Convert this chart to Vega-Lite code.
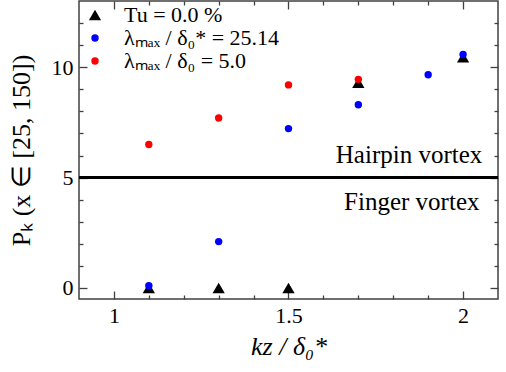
{
  "$schema": "https://vega.github.io/schema/vega-lite/v6.json",
  "width": 419,
  "height": 298,
  "autosize": {"type": "none"},
  "padding": {"left": 79, "top": 1, "right": 8, "bottom": 73},
  "background": "white",
  "config": {
    "view": {"stroke": "#404040", "strokeWidth": 1.5},
    "font": "Liberation Serif",
    "style": {
      "guide-label": {"font": "Liberation Serif", "fontSize": 22, "fill": "black"},
      "guide-title": {"font": "Liberation Serif", "fill": "black"}
    },
    "axis": {
      "grid": false,
      "domain": false,
      "labelFont": "Liberation Serif",
      "labelFontSize": 22,
      "labelColor": "black",
      "tickColor": "#404040",
      "tickWidth": 1.3,
      "titleFont": "Liberation Serif",
      "titleFontWeight": "normal",
      "titleColor": "black"
    },
    "legend": {"labelFont": "Liberation Serif", "labelColor": "black", "labelFontSize": 22}
  },
  "resolve": {"axis": {"x": "independent", "y": "independent"}},
  "layer": [
    {
      "data": {
        "values": [
          {"kz": 1.1, "Pk": 0.0, "series": "Tu = 0.0 %"},
          {"kz": 1.3, "Pk": 0.0, "series": "Tu = 0.0 %"},
          {"kz": 1.5, "Pk": 0.0, "series": "Tu = 0.0 %"},
          {"kz": 1.7, "Pk": 9.3, "series": "Tu = 0.0 %"},
          {"kz": 2.0, "Pk": 10.45, "series": "Tu = 0.0 %"},
          {"kz": 1.1, "Pk": 0.1, "series": "λₘₐₓ / δ₀* = 25.14"},
          {"kz": 1.3, "Pk": 2.1, "series": "λₘₐₓ / δ₀* = 25.14"},
          {"kz": 1.5, "Pk": 7.22, "series": "λₘₐₓ / δ₀* = 25.14"},
          {"kz": 1.7, "Pk": 8.3, "series": "λₘₐₓ / δ₀* = 25.14"},
          {"kz": 1.9, "Pk": 9.66, "series": "λₘₐₓ / δ₀* = 25.14"},
          {"kz": 2.0, "Pk": 10.58, "series": "λₘₐₓ / δ₀* = 25.14"},
          {"kz": 1.1, "Pk": 6.5, "series": "λₘₐₓ / δ₀ = 5.0"},
          {"kz": 1.3, "Pk": 7.7, "series": "λₘₐₓ / δ₀ = 5.0"},
          {"kz": 1.5, "Pk": 9.2, "series": "λₘₐₓ / δ₀ = 5.0"},
          {"kz": 1.7, "Pk": 9.45, "series": "λₘₐₓ / δ₀ = 5.0"}
        ]
      },
      "mark": {"type": "point", "filled": true, "opacity": 1},
      "encoding": {
        "x": {
          "field": "kz", "type": "quantitative",
          "scale": {"domain": [0.9, 2.1], "nice": false, "zero": false},
          "axis": {"orient": "bottom", "values": [1, 1.5, 2], "format": "~g", "tickSize": -8, "labelPadding": 14, "title": "kz / δ₀*", "titleFontStyle": "italic", "titleFontSize": 26, "titlePadding": 7, "labelFlush": false}
        },
        "y": {
          "field": "Pk", "type": "quantitative",
          "scale": {"domain": [-0.5, 13], "nice": false, "zero": false},
          "axis": {"orient": "left", "values": [0, 5, 10], "tickSize": -8, "labelPadding": 14, "title": "Pₖ (x ∈ [25, 150])", "titleFontSize": 26, "titlePadding": 17}
        },
        "color": {
          "field": "series", "type": "nominal",
          "scale": {"domain": ["Tu = 0.0 %", "λₘₐₓ / δ₀* = 25.14", "λₘₐₓ / δ₀ = 5.0"], "range": ["black", "#0000ff", "#ff0000"]},
          "legend": {"orient": "none", "legendX": 5, "legendY": 3, "title": null, "labelFont": "Liberation Serif", "labelFontSize": 22, "labelLimit": 400, "rowPadding": 1, "labelOffset": 18, "padding": 0, "symbolStrokeWidth": 0}
        },
        "shape": {
          "field": "series", "type": "nominal",
          "scale": {"domain": ["Tu = 0.0 %", "λₘₐₓ / δ₀* = 25.14", "λₘₐₓ / δ₀ = 5.0"], "range": ["triangle-up", "circle", "circle"]}
        },
        "size": {
          "field": "series", "type": "nominal",
          "scale": {"type": "ordinal", "domain": ["Tu = 0.0 %", "λₘₐₓ / δ₀* = 25.14", "λₘₐₓ / δ₀ = 5.0"], "range": [150, 55, 55]}
        }
      }
    },
    {
      "data": {"values": [{"xa": 0.9, "xb": 2.1, "y": 5}]},
      "mark": {"type": "rule", "strokeWidth": 3, "color": "black"},
      "encoding": {
        "x": {"field": "xa", "type": "quantitative", "axis": {"orient": "bottom", "values": [1.1, 1.2, 1.3, 1.4, 1.6, 1.7, 1.8, 1.9], "tickSize": -4, "labels": false, "title": null}},
        "x2": {"field": "xb"},
        "y": {"field": "y", "type": "quantitative", "axis": {"orient": "left", "values": [1, 2, 3, 4, 6, 7, 8, 9, 11, 12], "tickSize": -4, "labels": false, "title": null}}
      }
    },
    {
      "data": {"values": [{"x": 2.055, "y": 5.65, "label": "Hairpin vortex"}]},
      "mark": {"type": "text", "align": "right", "baseline": "alphabetic", "fontSize": 25, "font": "Liberation Serif", "color": "black"},
      "encoding": {
        "x": {"field": "x", "type": "quantitative", "axis": {"orient": "top", "values": [1, 1.5, 2], "tickSize": -8, "labels": false, "title": null}},
        "y": {"field": "y", "type": "quantitative", "axis": {"orient": "right", "values": [0, 5, 10], "tickSize": -8, "labels": false, "title": null}},
        "text": {"field": "label"}
      }
    },
    {
      "data": {"values": [{"x": 2.047, "y": 3.53, "label": "Finger vortex"}]},
      "mark": {"type": "text", "align": "right", "baseline": "alphabetic", "fontSize": 25, "font": "Liberation Serif", "color": "black"},
      "encoding": {
        "x": {"field": "x", "type": "quantitative", "axis": {"orient": "top", "values": [1.1, 1.2, 1.3, 1.4, 1.6, 1.7, 1.8, 1.9], "tickSize": -4, "labels": false, "title": null}},
        "y": {"field": "y", "type": "quantitative", "axis": {"orient": "right", "values": [1, 2, 3, 4, 6, 7, 8, 9, 11, 12], "tickSize": -4, "labels": false, "title": null}},
        "text": {"field": "label"}
      }
    }
  ]
}
